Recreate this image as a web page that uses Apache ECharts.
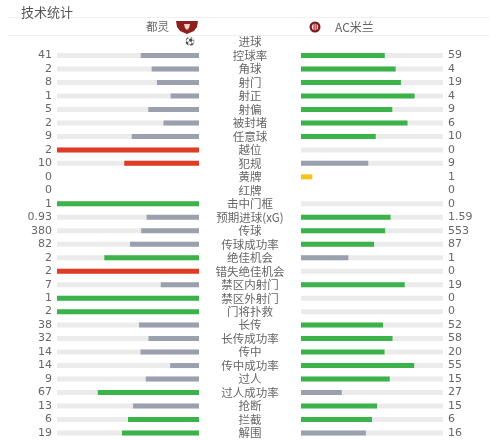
<!DOCTYPE html>
<html><head><meta charset="utf-8">
<script src="https://cdn.jsdelivr.net/npm/echarts@6/dist/echarts.min.js"></script>
<style>html,body{margin:0;padding:0;background:#fff}#c{width:500px;height:440px}</style>
</head><body><div id="c"></div>
<script>
var categories = ['进球','控球率','角球','射门','射正','射偏','被封堵','任意球','越位','犯规','黄牌','红牌','击中门框','预期进球(xG)','传球','传球成功率','绝佳机会','错失绝佳机会','禁区内射门','禁区外射门','门将扑救','长传','长传成功率','传中','传中成功率','过人','过人成功率','抢断','拦截','解围'];
var homeValues = [null,41,2,8,1,5,2,9,2,10,0,0,1,0.93,380,82,2,2,7,1,2,38,32,14,14,9,67,13,6,19];
var awayValues = [null,59,4,19,4,9,6,10,0,9,1,0,0,1.59,553,87,1,0,19,0,0,52,58,20,55,15,27,15,6,16];
var negativeStats = ['越位','犯规','错失绝佳机会'];
var noTrackStats = ['进球','黄牌','红牌'];
var cardStats = ['黄牌','红牌'];
var homeTeam = '都灵', awayTeam = 'AC米兰';

var GREEN = '#3bb34a', GRAY = '#9aa0ad', RED = '#e03b24', YELLOW = '#f6c416', TRACK = '#ebebeb';

function barColor(cat, mine, other) {
  if (mine > other) return negativeStats.indexOf(cat) >= 0 ? RED : GREEN;
  if (mine === other) return GREEN;
  return GRAY;
}
function buildSide(mineArr, otherArr) {
  var track = [], bar = [];
  categories.forEach(function (cat, i) {
    var m = mineArr[i], o = otherArr[i];
    var noTrack = noTrackStats.indexOf(cat) >= 0;
    track.push({ value: 1, itemStyle: { color: noTrack ? 'rgba(0,0,0,0)' : TRACK },
                 label: { formatter: m === null ? '' : String(m) } });
    if (m === null) { bar.push('-'); return; }
    if (cardStats.indexOf(cat) >= 0) {
      bar.push(m > 0 ? { value: 0.08, itemStyle: { color: cat === '黄牌' ? YELLOW : RED } } : '-');
      return;
    }
    var s = m + o;
    var f = s > 0 ? m / s : 0;
    bar.push(f > 0 ? { value: f, itemStyle: { color: barColor(cat, m, o) } } : '-');
  });
  return { track: track, bar: bar };
}
var L = buildSide(homeValues, awayValues);
var R = buildSide(awayValues, homeValues);

var FONT = '"Noto Sans CJK SC", "Noto Sans", sans-serif';
var rowTop = 35.3, rowH = 404.4;
var chart = echarts.init(document.getElementById('c'), null, { renderer: 'canvas' });
var labelBase = { show: true, color: '#666', fontSize: 11, fontFamily: 'DejaVu Sans' };

chart.setOption({
  animation: false,
  title: { text: '技术统计', left: 16, top: 1, textStyle: { fontSize: 13, fontWeight: 'normal', color: '#555', fontFamily: FONT } },
  grid: [
    { left: 57, width: 142, top: rowTop, height: rowH },
    { left: 301, width: 142, top: rowTop, height: rowH }
  ],
  xAxis: [
    { gridIndex: 0, type: 'value', min: 0, max: 1, inverse: true, show: false },
    { gridIndex: 1, type: 'value', min: 0, max: 1, show: false }
  ],
  yAxis: [
    { gridIndex: 0, type: 'category', data: categories, inverse: true, position: 'right',
      axisLine: { show: false }, axisTick: { show: false }, splitLine: { show: false },
      axisLabel: { align: 'center', margin: 51, color: '#666', fontSize: 11.5, fontFamily: FONT, interval: 0 } },
    { gridIndex: 1, type: 'category', data: categories, inverse: true, show: false }
  ],
  series: [
    { type: 'bar', xAxisIndex: 0, yAxisIndex: 0, data: L.track, barWidth: 5, barGap: '-100%', silent: true,
      label: Object.assign({ position: 'left', distance: 5, align: 'right' }, labelBase) },
    { type: 'bar', xAxisIndex: 0, yAxisIndex: 0, data: L.bar, barWidth: 5, barGap: '-100%', silent: true },
    { type: 'bar', xAxisIndex: 1, yAxisIndex: 1, data: R.track, barWidth: 5, barGap: '-100%', silent: true,
      label: Object.assign({ position: 'right', distance: 5, align: 'left' }, labelBase) },
    { type: 'bar', xAxisIndex: 1, yAxisIndex: 1, data: R.bar, barWidth: 5, barGap: '-100%', silent: true }
  ]
});

var goalPt = chart.convertToPixel({ xAxisIndex: 0, yAxisIndex: 0 }, [0, '进球']);
chart.setOption({
  graphic: [
    { type: 'line', shape: { x1: 8, y1: 17.5, x2: 490, y2: 17.5 }, style: { stroke: '#f0f0f0', lineWidth: 1 } },
    { type: 'line', shape: { x1: 8, y1: 35.5, x2: 490, y2: 35.5 }, style: { stroke: '#f0f0f0', lineWidth: 1 } },
    { type: 'text', x: 169, y: 27, style: { text: homeTeam, fill: '#666', font: '11.5px ' + FONT, textAlign: 'right', textVerticalAlign: 'middle' } },
    { type: 'text', x: 335, y: 27, style: { text: awayTeam, fill: '#666', font: '12px ' + FONT, textAlign: 'left', textVerticalAlign: 'middle' } },
    { type: 'polygon', shape: { points: [[176,21],[198,21],[197,27],[194,31],[187,34],[180,31],[177,27]] }, style: { fill: '#8e1f1f' } },
    { type: 'polygon', shape: { points: [[184,24],[190,24],[189,28],[187,30],[185,28]] }, style: { fill: '#f3d7c8' } },
    { type: 'circle', shape: { cx: 315, cy: 27, r: 5.5 }, style: { fill: '#7a1b1b' } },
    { type: 'circle', shape: { cx: 315, cy: 27, r: 3.2 }, style: { fill: '#e8e0e0' } },
    { type: 'rect', shape: { x: 313.5, y: 24, width: 1.2, height: 6 }, style: { fill: '#c0262d' } },
    { type: 'rect', shape: { x: 315.6, y: 24, width: 1.2, height: 6 }, style: { fill: '#c0262d' } },
    { type: 'text', x: goalPt[0] - 4, y: goalPt[1], style: { text: '⚽', fill: '#999', font: '8px "DejaVu Sans"', textAlign: 'right', textVerticalAlign: 'middle' } }
  ]
});
</script></body></html>
